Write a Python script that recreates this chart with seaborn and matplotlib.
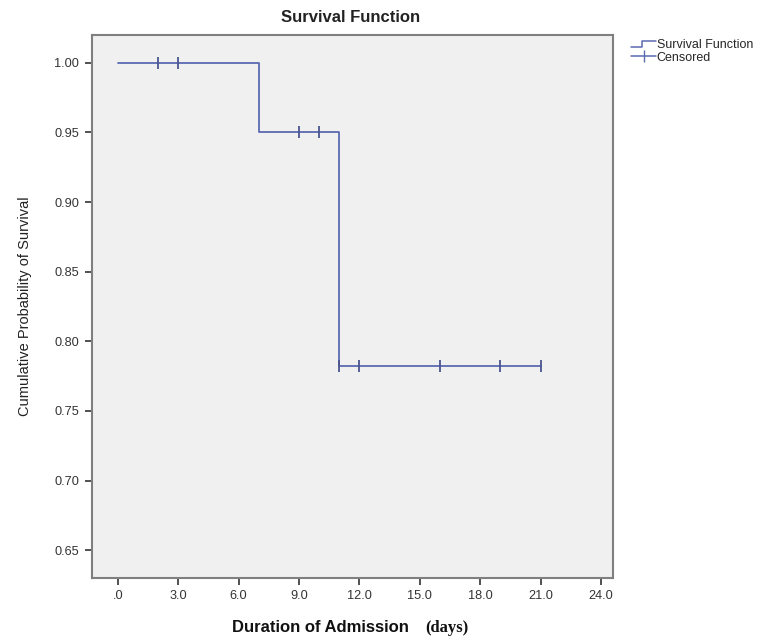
import numpy as np
import pandas as pd
import matplotlib
matplotlib.use("Agg")
import matplotlib.pyplot as plt
import seaborn as sns
from matplotlib.lines import Line2D
from matplotlib.legend_handler import HandlerBase

# Kaplan-Meier step values
step_time = [0, 7, 11, 21]
step_surv = [1.00, 0.95, 0.782, 0.782]

# censored observations
cens_time = [2, 3, 9, 10, 11, 12, 16, 19, 21]
cens_surv = [1.00, 1.00, 0.95, 0.95, 0.782, 0.782, 0.782, 0.782, 0.782]

x_ticks = [0, 3, 6, 9, 12, 15, 18, 21, 24]
x_labels = [".0", "3.0", "6.0", "9.0", "12.0", "15.0", "18.0", "21.0", "24.0"]
y_ticks = [0.65, 0.70, 0.75, 0.80, 0.85, 0.90, 0.95, 1.00]

sns.set_theme(style="white")
plt.rcParams['font.family'] = ['Liberation Sans', 'DejaVu Sans']

line_col = '#5b6bb0'
steps = pd.DataFrame({"time": step_time, "surv": step_surv})
cens = pd.DataFrame({"time": cens_time, "surv": cens_surv})


class StepHandler(HandlerBase):
    # little step glyph like the SPSS legend
    def create_artists(self, legend, orig, xd, yd, w, h, fontsize, trans):
        xs = [xd, xd + w * 0.45, xd + w * 0.45, xd + w]
        ys = [yd + h * 0.15, yd + h * 0.15, yd + h * 0.85, yd + h * 0.85]
        ln = Line2D(xs, ys, color=orig.get_color(), lw=1.1, transform=trans)
        return [ln]


fig = plt.figure(figsize=(7.71, 6.42), dpi=100)
ax = fig.add_axes([0.119, 0.0997, 0.676, 0.8458])
ax.set_facecolor('#f0f0f0')

sns.lineplot(data=steps, x="time", y="surv", ax=ax, drawstyle='steps-post',
             color=line_col, lw=1.3, legend=False)
ax.scatter(cens["time"], cens["surv"], marker='|', s=70, color='#4a5590',
           linewidths=1.3, zorder=3)

ax.set_xlim(-1.3, 24.6)
ax.set_ylim(0.630, 1.020)
ax.set_xticks(x_ticks)
ax.set_xticklabels(x_labels)
ax.set_yticks(y_ticks)
ax.set_yticklabels([f"{v:.2f}" for v in y_ticks])
ax.tick_params(axis='both', direction='out', length=5, width=1.2, color='#333333',
               labelsize=9.2, labelcolor='#333333', pad=4,
               bottom=True, left=True)
for s in ax.spines.values():
    s.set_color('#7f7f7f')
    s.set_linewidth(1.5)
ax.set_xlabel("")
ax.set_ylabel("Cumulative Probability of Survival", fontsize=10.5, color='#222222', labelpad=16)

fig.text(0.455, 0.972, "Survival Function", ha='center', va='center',
         fontsize=12, fontweight='bold', color='#222222')
fig.text(0.301, 0.022, "Duration of Admission", ha='left', va='center',
         fontsize=12, fontweight='bold', color='#111111')
fig.text(0.551, 0.022, "(days)", ha='left', va='center',
         fontsize=12, fontweight='bold', color='#111111', family='Liberation Serif')

h_surv = Line2D([], [], color=line_col, lw=1.1)
h_cens = Line2D([], [], color=line_col, lw=1.1, marker='|', markersize=9)
fig.legend([h_surv, h_cens], ["Survival Function", "Censored"], loc='upper left',
           bbox_to_anchor=(0.812, 0.947), frameon=False, fontsize=9,
           handlelength=2.0, handletextpad=0.05, labelspacing=0.05, borderaxespad=0,
           handler_map={h_surv: StepHandler()})

fig.savefig("out.png", dpi=100)
